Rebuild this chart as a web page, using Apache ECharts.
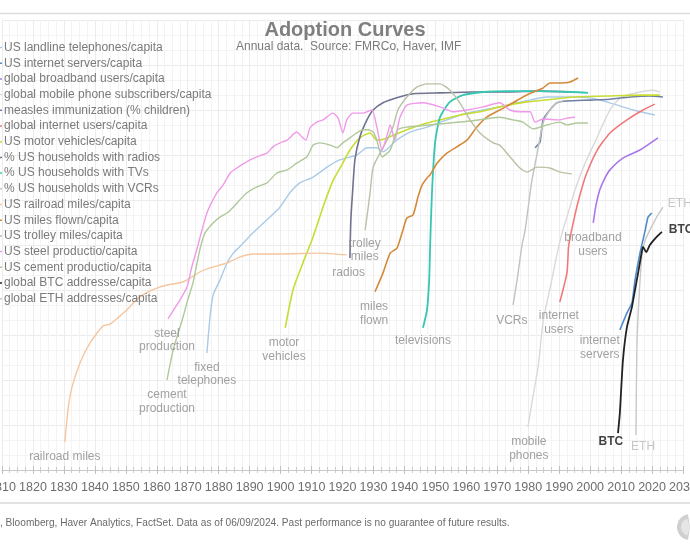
<!DOCTYPE html>
<html><head><meta charset="utf-8">
<script src="https://cdn.jsdelivr.net/npm/echarts@6/dist/echarts.min.js"></script>
<style>html,body{margin:0;padding:0;background:#fff}#c{width:690px;height:550px}</style>
</head><body><div id="c"></div>
<script>
// ---------------- data: [year, adoption level 0-100] ----------------
const landline = [[1876.2,26],[1877.2,34],[1878.2,38.9],[1880.4,42.2],[1882.7,46],[1884.7,48.2],[1886.8,49.6],[1891.1,52.7],[1895.6,55.6],[1899.8,58.4],[1903,61.6],[1906.2,63.8],[1910.5,65.1],[1915,67.3],[1919.1,68.9],[1924.6,70],[1927.9,71.6],[1931.1,71.6],[1933.1,70.7],[1937.5,73.3],[1941.8,75.1],[1947.3,76.2],[1953.7,77.8],[1960.2,79.3],[1965.4,80],[1970.8,80.7],[1976.3,81.6],[1980.6,82.2],[1986,82.9],[1992.5,82.9],[2000,82.7],[2006.4,81.6],[2013.9,80],[2020.9,78.9]];
const servers = [[2009.6,31.1],[2011.9,34.9],[2013.5,37.1],[2014.5,42.2],[2016.1,48.2],[2017.8,53.3],[2018.7,56.2],[2019.9,57.1]];
const broadband = [[2001,54.9],[2001.9,58.9],[2003.1,62.2],[2004.8,64.9],[2006.4,66.7],[2010.6,69.3],[2016.1,71.1],[2021.9,73.8]];
const mobile = [[1979.9,9.6],[1981.5,16.2],[1983.2,22.9],[1984.8,32.9],[1987.6,42.2],[1989.6,48.9],[1991.2,53.3],[1993.2,57.8],[1995.1,62.2],[1998.4,68.2],[2002.3,74],[2004.8,77.8],[2007,80.7],[2010.3,82.9],[2016.1,84],[2020.3,84.4],[2022.5,84]];
const measles = [[1982.2,71.6],[1983.8,72.9],[1984.8,77.8],[1987,80],[1989.3,81.6],[1992.5,82],[2000,82.2],[2006.4,82.4],[2012.9,82.9],[2019.3,83.1],[2023.5,82.9]];
const internetUsers = [[1990.2,37.3],[1992.5,43.8],[1993.1,50],[1995.1,56.7],[1996.7,61.1],[1998.7,65.6],[2002.3,71.1],[2006.4,74.9],[2011.9,77.8],[2017.1,80],[2020.9,81.3]];
const motor = [[1901.5,31.6],[1904,40],[1907.2,46],[1910.5,51.8],[1913.7,58.4],[1917,64.4],[1920.1,68.2],[1922.4,71.1],[1925.6,73.8],[1928.9,74.9],[1931.1,73.3],[1934.4,73.8],[1940.8,75.6],[1947.3,77.1],[1951.5,77.8],[1957.9,78.9],[1964.4,79.6],[1970.8,80.7],[1979.6,81.8],[1988,82.4],[1994.5,82.9],[2005.4,83.1],[2016.1,83.3],[2022.5,83.3]];
const radios = [[1922.4,47.1],[1922.7,55.6],[1923.3,62.2],[1924,68.9],[1925.6,74],[1927.9,77.8],[1929.9,80],[1933.1,81.6],[1937.5,82.7],[1942.8,83.6],[1951.5,83.8],[1962.1,84],[1973.1,84],[1983.8,84.2],[1994.4,84]];
const tvs = [[1946,31.6],[1947.3,35.6],[1948,42.2],[1948.3,49.6],[1948.9,61.6],[1949.9,72.7],[1951.5,78.4],[1954.7,81.8],[1958.9,83.3],[1965.4,84],[1973.1,84.2],[1983.8,84.2],[1994.5,84],[1999.3,83.8]];
const vcrs = [[1975.1,36.7],[1976.4,42.2],[1978,50],[1979,53.3],[1980.3,60],[1981.2,64.4],[1982.9,70.4],[1984.8,77.1],[1987,80],[1989.3,81.6],[1991.2,82]];
const railroad = [[1830.3,6.2],[1831.3,13.3],[1832.6,18.4],[1835.2,23.8],[1838.4,28.2],[1842.6,32],[1844.9,32.4],[1847.4,33.8],[1850.4,35.6],[1852.4,37.1],[1855.5,38.9],[1860,40.4],[1863.3,41.1],[1867.5,41.6],[1869.7,42.2],[1873.9,44],[1877.2,44.9],[1882.7,46],[1886.8,47.3],[1891.1,48],[1899.8,48],[1912.7,48.2],[1921.4,47.8]];
const milesFlown = [[1930.5,39.6],[1933.1,43.8],[1935.4,48.2],[1937.6,49.3],[1939.5,53.3],[1940.8,56],[1942.8,56.7],[1944.4,60.7],[1945.7,63.3],[1947.3,64.9],[1948.3,65.6],[1950.6,68.2],[1953.7,70.4],[1956.9,71.8],[1960.2,73.3],[1963.4,76.2],[1966.6,78.4],[1970.8,80],[1975.1,81.6],[1978.3,82.9],[1981.6,84],[1984.8,84.9],[1987,86],[1990.2,86],[1993.5,86.2],[1996.1,87.1]];
const trolley = [[1927.3,53.3],[1928.2,57.8],[1928.9,61.6],[1929.9,67.3],[1932.1,70.4],[1934.4,73.3],[1936.3,76.2],[1937.9,80],[1940.8,82.9],[1944,85.1],[1947.3,85.8],[1951.5,85.8],[1954.7,84.4],[1957.9,81.6],[1961.2,77.8],[1964.4,74.9],[1968.7,72.7],[1970.8,72.2],[1974.1,69.6],[1977.3,67.1],[1979.6,66.2],[1982.9,67.3],[1987,67.1],[1990.2,66.2],[1994.1,65.8]];
const steel = [[1863.6,33.6],[1867.5,37.8],[1869.8,40.7],[1871.3,45.1],[1872.9,48.9],[1876.2,57.1],[1879.4,61.6],[1881.4,63.3],[1883.7,66],[1886.3,67.3],[1888.4,68.2],[1890.1,68.9],[1892.3,69.6],[1895.6,70.4],[1897.5,71.8],[1899.8,72.7],[1902.1,73.3],[1905.2,75.1],[1906.9,74],[1908.2,73.3],[1909.5,76],[1911.7,77.3],[1913.7,77.8],[1916.9,79.3],[1918.6,78.2],[1920.1,74.9],[1921.4,77.8],[1923.3,79.3],[1926.6,79.3],[1929.5,80],[1931.1,76.2],[1932.8,71.1],[1934.4,74.4],[1935.4,76.7],[1936.9,73.3],[1938.5,78.2],[1940.8,81.1],[1946,81.6],[1951.5,80.7],[1955.7,79.6],[1960.2,80],[1965.4,80.7],[1970.8,81.6],[1974.1,80],[1977.3,79.6],[1980.6,79.6],[1982.2,77.3],[1984.8,78],[1990.2,77.8],[1992.5,78.2],[1995.1,78.4]];
const cement = [[1863.3,20],[1865.3,26.7],[1866.9,30.4],[1868.5,34],[1870,37.8],[1871.7,41.6],[1873.9,48.9],[1875.6,52.7],[1878.2,54.9],[1880.4,56.2],[1882.7,57.1],[1884.7,58.4],[1886.8,60],[1889.1,61.6],[1892.3,62.9],[1895.6,63.8],[1898.8,66],[1902.1,66.7],[1905.2,68.2],[1908.5,69.6],[1910.5,72.2],[1912.7,72.7],[1916,72.2],[1918.2,71.6],[1920.1,72.7],[1922.4,73.8],[1924.6,74.9],[1926.6,75.6],[1928.2,75.6],[1929.9,75.1],[1931.1,73.3],[1932.8,69.6],[1935.4,71.1],[1937.8,75.6],[1940.8,76.2],[1951.5,76.9],[1962.1,77.6],[1970.8,78.4],[1975.1,77.8],[1978.3,77.3],[1981.6,75.8],[1986.1,76.7],[1990.2,77.3],[1992.5,76.7],[1995.7,77.1],[1999.3,77.1]];
const btc = [[2009,8.2],[2009.6,12.7],[2010.6,24.4],[2011.9,31.8],[2013.5,36.2],[2014.5,40],[2015.5,43.8],[2016.8,48.9],[2017.1,49.6],[2018.1,48.4],[2019.3,50],[2021.5,51.8],[2023.2,52.9]];
const eth = [[2014.8,7.8],[2015.1,27.3],[2015.8,38.4],[2016.8,48.2],[2017.8,51.1],[2019.3,53.3],[2021.5,56.2],[2023.5,58.4]];

const seriesNames = ['US landline telephones/capita','US internet servers/capita','global broadband users/capita','global mobile phone subscribers/capita','measles immunization (% children)','global internet users/capita','US motor vehicles/capita','% US households with radios','% US households with TVs','% US households with VCRs','US railroad miles/capita','US miles flown/capita','US trolley miles/capita','US steel productio/capita','US cement productio/capita','global BTC addresse/capita','global ETH addresses/capita'];
const seriesData = [landline, servers, broadband, mobile, measles, internetUsers, motor, radios, tvs, vcrs, railroad, milesFlown, trolley, steel, cement, btc, eth];

const xTicks = {min: 1810, max: 2030, step: 10};

// inline curve labels
const labelTexts = ['railroad miles','steel\nproduction','cement\nproduction','fixed\ntelephones','motor\nvehicles','radios','trolley\nmiles','miles\nflown','televisions','VCRs','internet\nusers','broadband\nusers','internet\nservers','mobile\nphones','BTC','ETH','BTC','ETH'];
const labelAnchors = [[1830.3,2.9],[1863.3,28.8],[1863.3,15.2],[1876.2,21.3],[1901.1,26.7],[1922,43.8],[1927.2,48.8],[1930.2,34.7],[1946,28.7],[1974.7,33.1],[1989.9,32.7],[2000.9,50.1],[2003.1,27.2],[1980.2,4.7],[2006.7,6.2],[2017.1,5.1],[2025.4,53.3],[2025.1,59.1]];

// ---------------- styles ----------------
const colors = ['#a9cbe8','#4e8ccc','#a878e8','#d9d9d9','#6f7fa3','#f07a7a','#c8dc34','#6f7290','#36c6b2','#c2c2c2','#f5c6a0','#d48a3c','#b9c2a5','#f09ae8','#b0c89a','#222222','#c8c8c8'];
const widths = [1.4,1.6,1.6,1.4,1.6,1.6,1.6,1.6,1.8,1.4,1.4,1.6,1.4,1.4,1.4,1.8,1.4];
const labelStyles = [{},{},{},{},{},{},{},{},{},{},{},{},{},{},
  {color:'#111', fontWeight:'bold'},
  {color:'#b8b8b8'},
  {color:'#111', fontWeight:'bold', align:'left', position:'right'},
  {color:'#b8b8b8', align:'left', position:'right'}];

const FONT = "'Liberation Sans', Arial, sans-serif";
const chart = echarts.init(document.getElementById('c'), null, {renderer: 'canvas'});

const lineSeries = seriesNames.map((n, i) => ({
  name: n, type: 'line', data: seriesData[i], showSymbol: false, symbol: 'none',
  lineStyle: {color: colors[i], width: widths[i]}, itemStyle: {color: colors[i]},
  smooth: 0.2, silent: true, z: 2 + (i === 15 ? 5 : 0)
}));

const labelSeries = {
  type: 'scatter', symbolSize: 0, silent: true, z: 10,
  data: labelAnchors.map((p, i) => {
    const s = labelStyles[i];
    return {value: p, name: labelTexts[i], label: {
      show: true, formatter: '{b}', position: s.position || 'inside', distance: 0,
      align: s.align || 'center', color: s.color || '#8a8a8a',
      fontWeight: s.fontWeight || 'normal', fontSize: 12, lineHeight: 13.5, fontFamily: FONT
    }};
  })
};

chart.setOption({
  animation: false,
  backgroundColor: '#ffffff',
  title: [
    {text: 'Adoption Curves', left: 'center', top: 15, textStyle: {fontSize: 20, fontWeight: 'bold', color: '#7f7f7f', fontFamily: FONT}},
    {text: 'Annual data.  Source: FMRCo, Haver, IMF', left: 231, top: 36, textStyle: {fontSize: 12, fontWeight: 'normal', color: '#7a7a7a', fontFamily: FONT}}
  ],
  legend: {
    orient: 'vertical', left: 0, top: 40.5, padding: 0, itemWidth: 2, itemHeight: 1.5, itemGap: 1.7, icon: 'rect',
    data: seriesNames, selectedMode: false,
    textStyle: {color: '#7a7a7a', fontSize: 12, lineHeight: 14, fontFamily: FONT, padding: [0, 0, 0, -3]}
  },
  grid: {left: 2, right: 7, top: 20, bottom: 80, containLabel: false, outerBoundsMode: 'none'},
  xAxis: [{
    type: 'value', min: xTicks.min, max: xTicks.max, interval: xTicks.step, position: 'bottom',
    axisLine: {show: true, lineStyle: {color: '#c8c8c8'}},
    axisTick: {show: true, length: 4, lineStyle: {color: '#c0c0c0'}},
    minorTick: {show: true, splitNumber: 4, length: 3, lineStyle: {color: '#cccccc'}},
    axisLabel: {color: '#6e6e6e', fontSize: 12.5, margin: 11, fontFamily: FONT, showMinLabel: true, showMaxLabel: true, hideOverlap: false, formatter: v => String(v)},
    splitLine: {show: true, lineStyle: {color: '#ececec'}},
    minorSplitLine: {show: true, lineStyle: {color: '#f3f3f3'}}
  }, {
    type: 'value', min: xTicks.min, max: xTicks.max, interval: xTicks.step, position: 'bottom', offset: 0,
    axisLine: {show: false},
    axisTick: {show: true, inside: true, length: 4, lineStyle: {color: '#c0c0c0'}},
    minorTick: {show: true, splitNumber: 4, length: 3, lineStyle: {color: '#cccccc'}},
    axisLabel: {show: false}, splitLine: {show: false}
  }],
  yAxis: {
    type: 'value', min: 0, max: 100, interval: 10,
    axisLine: {show: false}, axisTick: {show: false}, axisLabel: {show: false},
    splitLine: {show: true, lineStyle: {color: '#ececec'}},
    minorSplitLine: {show: true, lineStyle: {color: '#f4f4f4'}},
    minorTick: {show: false, splitNumber: 3}
  },
  graphic: [
    {type: 'line', shape: {x1: 0, y1: 13.5, x2: 690, y2: 13.5}, style: {stroke: '#dcdcdc', lineWidth: 1.5}, silent: true},
    {type: 'line', shape: {x1: 0, y1: 503, x2: 690, y2: 503}, style: {stroke: '#d8d8d8', lineWidth: 1.5}, silent: true},
    {type: 'text', x: 0, y: 517, scaleX: 0.88, style: {text: ', Bloomberg, Haver Analytics, FactSet. Data as of 06/09/2024. Past performance is no guarantee of future results.', fill: '#6a6a6a', font: "11.5px 'Liberation Sans', Arial, sans-serif"}, silent: true},
    {type: 'sector', shape: {cx: 690, cy: 527, r: 13, r0: 0, startAngle: Math.PI * 0.55, endAngle: Math.PI * 1.45}, style: {fill: '#cfcfcf'}, silent: true},
    {type: 'sector', shape: {cx: 690, cy: 527, r: 9, r0: 0, startAngle: Math.PI * 0.6, endAngle: Math.PI * 1.4}, style: {fill: '#e6e6e6'}, silent: true}
  ],
  series: lineSeries.concat([labelSeries])
});
</script></body></html>
